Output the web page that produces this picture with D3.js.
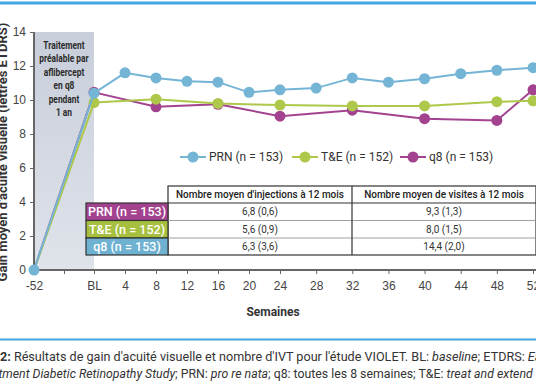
<!DOCTYPE html>
<html>
<head>
<meta charset="utf-8">
<script src="https://cdn.jsdelivr.net/npm/d3@7"></script>
<style>
  body { margin: 0; background: #fff; }
  svg { display: block; font-family: Roboto, "Noto Sans", sans-serif; }
  .axis path, .axis line { stroke: #666; }
  .axis text { fill: #444; font-size: 12px; }
</style>
</head>
<body>
<div id="chart"></div>
<script>
// weeks, -52 = start of prior treatment, 0 = BL
const prnWeeks = [-52, 0, 4, 8, 12, 16, 20, 24, 28, 32, 36, 40, 44, 48, 52];
const prnGain = [0, 10.4, 11.6, 11.3, 11.1, 11.05, 10.45, 10.6, 10.7, 11.3, 11.05, 11.25, 11.55, 11.75, 11.9];

const teWeeks = [-52, 0, 8, 16, 24, 32, 40, 48, 52];
const teGain = [0, 9.85, 10.05, 9.8, 9.7, 9.65, 9.65, 9.9, 9.95];

const q8Weeks = [-52, 0, 8, 16, 24, 32, 40, 48, 52];
const q8Gain = [0, 10.45, 9.6, 9.75, 9.05, 9.4, 8.9, 8.8, 10.6];

const xTicks = [-52, -26, 0, 4, 8, 12, 16, 20, 24, 28, 32, 36, 40, 44, 48, 52];
const yTicks = [0, 2, 4, 6, 8, 10, 12, 14];

const seriesNames = ["PRN (n = 153)", "T&E (n = 152)", "q8 (n = 153)"];
const tableRows = ["PRN (n = 153)", "T&E (n = 152)", "q8 (n = 153)"];
const tableHeaders = ["Nombre moyen d'injections à 12 mois", "Nombre moyen de visites à 12 mois"];
const injections = ["6,8 (0,6)", "5,6 (0,9)", "6,3 (3,6)"];
const visits = ["9,3 (1,3)", "8,0 (1,5)", "14,4 (2,0)"];

const blue = "#74b4d4", green = "#adc84a", purple = "#a3438f";

const W = 536, H = 386;
const svg = d3.select('#chart').append('svg')
    .attr('width', W)
    .attr('height', H);

// the weeks are not evenly spaced in the original, hence a piecewise scale
const x = d3.scaleLinear()
    .domain([-52, 0, 24, 52])
    .range([34, 94, 280, 533]);

const y = d3.scaleLinear()
    .domain([0, 14])
    .range([270, 32]);

// frame lines
svg.append('line').attr('x1', 0).attr('x2', W).attr('y1', 3).attr('y2', 3)
    .attr('stroke', '#3fa6df').attr('stroke-width', 3);
svg.append('line').attr('x1', 0).attr('x2', W).attr('y1', 339.5).attr('y2', 339.5)
    .attr('stroke', '#3fa6df').attr('stroke-width', 2);

// shaded prior treatment zone
const grad = svg.append('defs').append('linearGradient')
    .attr('id', 'shade').attr('x1', 0).attr('x2', 0).attr('y1', 0).attr('y2', 1);
grad.append('stop').attr('offset', '0%').attr('stop-color', '#c8ceda');
grad.append('stop').attr('offset', '100%').attr('stop-color', '#dfe3ea');

svg.append('rect')
    .attr('x', x(-52))
    .attr('y', y(14))
    .attr('width', x(0) - x(-52))
    .attr('height', y(0) - y(14))
    .attr('fill', 'url(#shade)');

const shadeText = ["Traitement", "préalable par", "aflibercept", "en q8", "pendant", "1 an"];
const st = svg.append('g')
    .attr('transform', `translate(${(x(-52) + x(0)) / 2},0) scale(0.8,1)`);
st.selectAll('text')
  .data(shadeText)
  .join('text')
    .attr('x', 0)
    .attr('y', (d, i) => 49 + i * 13.4)
    .attr('text-anchor', 'middle')
    .attr('font-size', '10.5px')
    .attr('font-weight', 700)
    .attr('fill', '#2b2b2b')
    .text(d => d);

// axes
const xAxis = d3.axisBottom(x)
    .tickValues(xTicks)
    .tickSize(4)
    .tickFormat(d => d === 0 ? "BL" : d === -26 ? "" : d);

svg.append('g')
    .attr('class', 'axis')
    .attr('transform', `translate(0,${y(0)})`)
    .call(xAxis)
    .call(g => g.select('.domain').attr('d', `M${x(-52)},0H${W}`).attr('stroke-width', 2))
    .call(g => g.selectAll('.tick text').attr('dy', '1.05em'));

const yAxis = d3.axisLeft(y)
    .tickValues(yTicks)
    .tickSize(4);

svg.append('g')
    .attr('class', 'axis')
    .attr('transform', `translate(${x(-52)},0)`)
    .call(yAxis)
    .call(g => g.select('.domain').attr('d', `M0,${y(0)}V${y(14)}`).attr('stroke-width', 2))
    .call(g => g.selectAll('.tick text').attr('x', -8));

// y title sits mostly past the left edge, as in the original crop
svg.append('text')
    .attr('transform', `translate(7,152) rotate(-90)`)
    .attr('text-anchor', 'middle')
    .attr('font-size', '13px')
    .attr('font-weight', 700)
    .attr('fill', '#333')
    .text("Gain moyen d'acuité visuelle (lettres ETDRS)");

svg.append('text')
    .attr('x', 273)
    .attr('y', 316)
    .attr('text-anchor', 'middle')
    .attr('font-size', '12px')
    .attr('font-weight', 700)
    .attr('fill', '#333')
    .text("Semaines");

// lines
const series = [
  { name: seriesNames[0], color: blue, pts: prnWeeks.map((w, i) => [w, prnGain[i]]) },
  { name: seriesNames[1], color: green, pts: teWeeks.map((w, i) => [w, teGain[i]]) },
  { name: seriesNames[2], color: purple, pts: q8Weeks.map((w, i) => [w, q8Gain[i]]) }
];

const line = d3.line()
    .x(d => x(d[0]))
    .y(d => y(d[1]));

// draw q8, T&E, then PRN on top
const drawOrder = [series[2], series[1], series[0]];
const sg = svg.append('g')
  .selectAll('g')
  .data(drawOrder)
  .join('g');

sg.append('path')
    .attr('d', d => line(d.pts))
    .attr('fill', 'none')
    .attr('stroke', d => d.color)
    .attr('stroke-width', 2);

sg.selectAll('circle')
  .data(d => d.pts.slice(1).map(p => ({ p, color: d.color })))
  .join('circle')
    .attr('cx', d => x(d.p[0]))
    .attr('cy', d => y(d.p[1]))
    .attr('r', 5.5)
    .attr('fill', d => d.color);

svg.append('circle')
    .attr('cx', x(-52)).attr('cy', y(0)).attr('r', 5.5).attr('fill', blue);

// legend
const legendX = [180, 292, 400];
const lg = svg.append('g')
  .selectAll('g')
  .data(series)
  .join('g')
    .attr('transform', (d, i) => `translate(${legendX[i]},157)`);

lg.append('line')
    .attr('x1', 0).attr('x2', 26)
    .attr('stroke', d => d.color).attr('stroke-width', 2);
lg.append('circle')
    .attr('cx', 13).attr('r', 5.5).attr('fill', d => d.color);
lg.append('text')
    .attr('x', 29)
    .attr('dy', '0.36em')
    .attr('font-size', '12px')
    .attr('fill', '#333')
    .text(d => d.name);

// table
const colX = [168, 352, 536];
const rowY = [186, 203, 220.5, 238, 255];
const rowColors = [purple, "#a7bf3e", "#6fb1d1"];

const tbl = svg.append('g');

tbl.append('rect')
    .attr('x', colX[0]).attr('y', rowY[0])
    .attr('width', colX[2] - colX[0]).attr('height', rowY[4] - rowY[0])
    .attr('fill', '#fff').attr('stroke', '#333').attr('stroke-width', 1.2);

tbl.selectAll('rect.lab')
  .data(tableRows)
  .join('rect')
    .attr('class', 'lab')
    .attr('x', 86)
    .attr('y', (d, i) => rowY[i + 1])
    .attr('width', colX[0] - 86)
    .attr('height', (d, i) => rowY[i + 2] - rowY[i + 1])
    .attr('fill', (d, i) => rowColors[i])
    .attr('stroke', '#333').attr('stroke-width', 1.2);

tbl.selectAll('text.lab')
  .data(tableRows)
  .join('text')
    .attr('class', 'lab')
    .attr('x', (86 + colX[0]) / 2)
    .attr('y', (d, i) => (rowY[i + 1] + rowY[i + 2]) / 2)
    .attr('dy', '0.36em')
    .attr('text-anchor', 'middle')
    .attr('font-size', '12.5px')
    .attr('font-weight', 500)
    .attr('fill', '#fff')
    .text(d => d);

tbl.selectAll('line.row')
  .data(rowY.slice(1, 4))
  .join('line')
    .attr('class', 'row')
    .attr('x1', colX[0]).attr('x2', colX[2])
    .attr('y1', d => d).attr('y2', d => d)
    .attr('stroke', (d, i) => i === 0 ? '#333' : '#888')
    .attr('stroke-width', (d, i) => i === 0 ? 1.2 : 0.8);

tbl.append('line')
    .attr('x1', colX[1]).attr('x2', colX[1])
    .attr('y1', rowY[0]).attr('y2', rowY[4])
    .attr('stroke', '#333').attr('stroke-width', 1.2);

tbl.selectAll('text.head')
  .data(tableHeaders)
  .join('text')
    .attr('class', 'head')
    .attr('x', (d, i) => (colX[i] + colX[i + 1]) / 2)
    .attr('y', (rowY[0] + rowY[1]) / 2)
    .attr('dy', '0.36em')
    .attr('text-anchor', 'middle')
    .attr('font-size', '10px')
    .attr('font-weight', 500)
    .attr('fill', '#222')
    .text(d => d);

const cells = [injections, visits];
cells.forEach((col, c) => {
  tbl.selectAll(`text.c${c}`)
    .data(col)
    .join('text')
      .attr('class', `c${c}`)
      .attr('x', (colX[c] + colX[c + 1]) / 2)
      .attr('y', (d, i) => (rowY[i + 1] + rowY[i + 2]) / 2)
      .attr('dy', '0.36em')
      .attr('text-anchor', 'middle')
      .attr('font-size', '10px')
      .attr('fill', '#333')
      .text(d => d);
});

// caption
const cap1 = svg.append('text')
    .attr('x', 0).attr('y', 361)
    .attr('font-size', '12.6px')
    .attr('fill', '#333');
cap1.append('tspan').attr('font-weight', 700).text("2:");
cap1.append('tspan').text(" Résultats de gain d'acuité visuelle et nombre d'IVT pour l'étude VIOLET. BL: ");
cap1.append('tspan').attr('font-style', 'italic').text("baseline");
cap1.append('tspan').text("; ETDRS: ");
cap1.append('tspan').attr('font-style', 'italic').text("Early");

const cap2 = svg.append('text')
    .attr('x', -25).attr('y', 378)
    .attr('font-size', '12.3px')
    .attr('fill', '#333');
cap2.append('tspan').attr('font-style', 'italic').text("Treatment Diabetic Retinopathy Study");
cap2.append('tspan').text("; PRN: ");
cap2.append('tspan').attr('font-style', 'italic').text("pro re nata");
cap2.append('tspan').text("; q8: toutes les 8 semaines; T&E: ");
cap2.append('tspan').attr('font-style', 'italic').text("treat and extend");
</script>
</body>
</html>
